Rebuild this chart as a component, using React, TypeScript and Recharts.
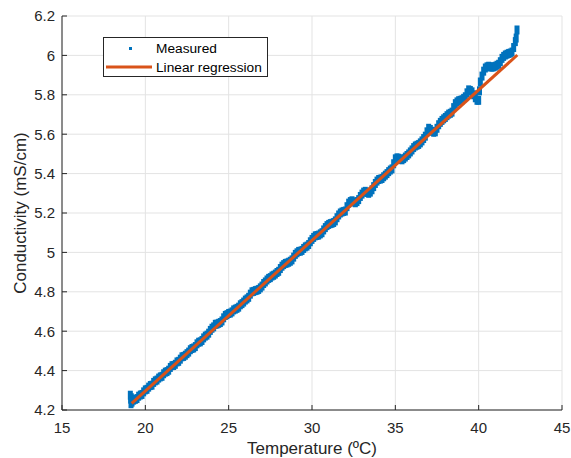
import React from 'react';
import { ComposedChart, Scatter, XAxis, YAxis, CartesianGrid, Legend } from 'recharts';

const measT = [
  19.1, 19.12, 19.14, 19.16, 19.18,
  19.2, 19.3, 19.4, 19.5, 19.6, 19.7, 19.8, 19.9, 20.0, 20.1,
  20.2, 20.3, 20.4, 20.5, 20.6, 20.7, 20.8, 20.9, 21.0, 21.1,
  21.2, 21.3, 21.4, 21.5, 21.6, 21.7, 21.8, 21.9, 22.0, 22.1,
  22.2, 22.3, 22.4, 22.5, 22.6, 22.7, 22.8, 22.9, 23.0, 23.1,
  23.2, 23.3, 23.4, 23.5, 23.6, 23.7, 23.8, 23.9, 24.0, 24.1,
  24.2, 24.3, 24.4, 24.5, 24.6, 24.7, 24.8, 24.9, 25.0, 25.1,
  25.2, 25.3, 25.4, 25.5, 25.6, 25.7, 25.8, 25.9, 26.0, 26.1,
  26.2, 26.3, 26.4, 26.5, 26.6, 26.7, 26.8, 26.9, 27.0, 27.1,
  27.2, 27.3, 27.4, 27.5, 27.6, 27.7, 27.8, 27.9, 28.0, 28.1,
  28.2, 28.3, 28.4, 28.5, 28.6, 28.7, 28.8, 28.9, 29.0, 29.1,
  29.2, 29.3, 29.4, 29.5, 29.6, 29.7, 29.8, 29.9, 30.0, 30.1,
  30.2, 30.3, 30.4, 30.5, 30.6, 30.7, 30.8, 30.9, 31.0, 31.1,
  31.2, 31.3, 31.4, 31.5, 31.6, 31.7, 31.8, 31.9, 32.0, 32.1,
  32.2, 32.3, 32.4, 32.5, 32.6, 32.7, 32.8, 32.9, 33.0, 33.1,
  33.2, 33.3, 33.4, 33.5, 33.6, 33.7, 33.8, 33.9, 34.0, 34.1,
  34.2, 34.3, 34.4, 34.5, 34.6, 34.7, 34.8, 34.9, 35.0, 35.1,
  35.2, 35.3, 35.4, 35.5, 35.6, 35.7, 35.8, 35.9, 36.0, 36.1,
  36.2, 36.3, 36.4, 36.5, 36.6, 36.7, 36.8, 36.9, 37.0, 37.1,
  37.2, 37.3, 37.4, 37.5, 37.6, 37.7, 37.8, 37.9, 38.0, 38.1,
  38.2, 38.3, 38.4, 38.5, 38.6, 38.7, 38.8, 38.9, 39.0, 39.1,
  39.2, 39.3, 39.4, 39.5, 39.6, 39.7, 39.8, 39.9, 40.0, 40.05, 40.1,
  40.2, 40.3, 40.4, 40.5, 40.6, 40.7, 40.8, 40.9, 41.0, 41.1,
  41.2, 41.3, 41.4, 41.5, 41.6, 41.7, 41.8, 41.9, 42.0, 42.1,
  42.2, 42.25, 42.3,
];

const measC = [
  4.275, 4.255, 4.232, 4.262, 4.245,
  4.240, 4.250, 4.254, 4.258, 4.270, 4.276, 4.279, 4.292, 4.302, 4.305,
  4.316, 4.324, 4.326, 4.340, 4.348, 4.352, 4.362, 4.368, 4.371, 4.384,
  4.392, 4.395, 4.402, 4.416, 4.425, 4.426, 4.432, 4.444, 4.447, 4.458,
  4.470, 4.472, 4.478, 4.486, 4.494, 4.506, 4.512, 4.515, 4.522, 4.536,
  4.544, 4.546, 4.553, 4.566, 4.575, 4.580, 4.590, 4.604, 4.615, 4.622,
  4.635, 4.636, 4.640, 4.644, 4.652, 4.668, 4.680, 4.684, 4.690, 4.692,
  4.698, 4.708, 4.712, 4.716, 4.722, 4.734, 4.740, 4.748, 4.758, 4.764,
  4.772, 4.788, 4.800, 4.802, 4.806, 4.808, 4.812, 4.820, 4.829, 4.842,
  4.850, 4.860, 4.868, 4.872, 4.880, 4.884, 4.890, 4.898, 4.904, 4.918,
  4.930, 4.938, 4.944, 4.946, 4.950, 4.955, 4.962, 4.976, 4.990, 4.998,
  5.005, 5.006, 5.010, 5.020, 5.028, 5.032, 5.040, 5.054, 5.066, 5.076,
  5.084, 5.086, 5.088, 5.094, 5.100, 5.114, 5.126, 5.136, 5.142, 5.146,
  5.148, 5.152, 5.160, 5.176, 5.190, 5.200, 5.205, 5.208, 5.210, 5.232,
  5.250, 5.258, 5.262, 5.256, 5.252, 5.258, 5.268, 5.284, 5.296, 5.306,
  5.310, 5.304, 5.300, 5.306, 5.318, 5.334, 5.350, 5.362, 5.370, 5.372,
  5.375, 5.384, 5.392, 5.400, 5.410, 5.418, 5.424, 5.450, 5.475, 5.480,
  5.478, 5.472, 5.470, 5.476, 5.484, 5.492, 5.500, 5.510, 5.520, 5.532,
  5.540, 5.544, 5.548, 5.556, 5.566, 5.578, 5.590, 5.612, 5.630, 5.624,
  5.615, 5.610, 5.612, 5.630, 5.648, 5.660, 5.670, 5.678, 5.685, 5.694,
  5.702, 5.706, 5.712, 5.735, 5.755, 5.764, 5.770, 5.772, 5.775, 5.782,
  5.790, 5.810, 5.825, 5.822, 5.815, 5.800, 5.785, 5.772, 5.772, 5.820, 5.865,
  5.895, 5.920, 5.936, 5.942, 5.945, 5.942, 5.940, 5.942, 5.945, 5.950,
  5.955, 5.968, 5.985, 5.995, 6.002, 6.006, 6.010, 6.012, 6.017, 6.040,
  6.070, 6.088, 6.129,
];

const regT = [19.18, 42.32];
const regC = [4.234, 6.002];

const xTicks = [15, 20, 25, 30, 35, 40, 45];
const yTicks = [4.2, 4.4, 4.6, 4.8, 5.0, 5.2, 5.4, 5.6, 5.8, 6.0, 6.2];
const xTitle = 'Temperature (ºC)';
const yTitle = 'Conductivity (mS/cm)';
const seriesNames = ['Measured', 'Linear regression'];

const measured = measT.map((t, i) => ({ T: t, C: measC[i] }));
const regression = regT.map((t, i) => ({ T: t, C: regC[i] }));

const FONT = '"Liberation Sans", Arial, Helvetica, sans-serif';
const AXIS = '#262626';
const BLUE = '#0072BD';
const ORANGE = '#D95319';
const TICK = 5;
const TICK_FS = 15;
const TITLE_FS = 17;

const fmt = (v: number) => String(+Number(v).toFixed(1));

const BottomTick = (p: any) => (
  <g>
    <line x1={p.x} x2={p.x} y1={p.y} y2={p.y - TICK} stroke={AXIS} strokeWidth={1} />
    <text x={p.x} y={p.y + 23} textAnchor="middle" fill={AXIS} fontSize={TICK_FS} fontFamily={FONT}>
      {fmt(p.payload.value)}
    </text>
  </g>
);
const TopTick = (p: any) => (
  <line x1={p.x} x2={p.x} y1={p.y} y2={p.y + TICK} stroke={AXIS} strokeWidth={1} />
);
const LeftTick = (p: any) => (
  <g>
    <line x1={p.x} x2={p.x + TICK} y1={p.y} y2={p.y} stroke={AXIS} strokeWidth={1} />
    <text x={p.x - 7} y={p.y + 5.3} textAnchor="end" fill={AXIS} fontSize={TICK_FS} fontFamily={FONT}>
      {fmt(p.payload.value)}
    </text>
  </g>
);
const RightTick = (p: any) => (
  <line x1={p.x} x2={p.x - TICK} y1={p.y} y2={p.y} stroke={AXIS} strokeWidth={1} />
);

const Marker = (p: any) => (
  <rect x={p.cx - 2.5} y={p.cy - 4.5} width={5} height={9} fill={BLUE} />
);
const NoMarker = () => <g />;

const LegendBox = () => (
  <div
    style={{
      width: 165,
      height: 40,
      border: `1px solid ${AXIS}`,
      background: '#fff',
      position: 'relative',
      boxSizing: 'border-box',
    }}
  >
    <svg width={165} height={40} style={{ position: 'absolute', left: -1, top: -1 }}>
      <rect x={26} y={10} width={3} height={3} fill={BLUE} />
      <line x1={3} x2={49} y1={30} y2={30} stroke={ORANGE} strokeWidth={3} />
      <text x={53} y={16} fontSize={13.7} fontFamily={FONT} fill="#000">{seriesNames[0]}</text>
      <text x={53} y={35} fontSize={13.7} fontFamily={FONT} fill="#000">{seriesNames[1]}</text>
    </svg>
  </div>
);

export default function App() {
  return (
    <div style={{ position: 'absolute', left: 0, top: 0, background: '#fff' }}>
      <ComposedChart
        width={571}
        height={458}
        margin={{ top: 16, right: 9, bottom: 0, left: 0 }}
        style={{ fontFamily: FONT }}
      >
        <CartesianGrid stroke="#e3e3e3" strokeWidth={1} />
        <XAxis
          dataKey="T"
          type="number"
          domain={[15, 45]}
          ticks={xTicks}
          interval={0}
          height={48}
          tickSize={0}
          tickMargin={0}
          tickLine={false}
          axisLine={{ stroke: AXIS }}
          tick={<BottomTick />}
          allowDataOverflow
          label={{ value: xTitle, position: 'insideBottom', offset: 4, fill: AXIS, fontSize: TITLE_FS, fontFamily: FONT }}
        />
        <XAxis
          xAxisId="top"
          orientation="top"
          type="number"
          domain={[15, 45]}
          ticks={xTicks}
          interval={0}
          height={0}
          tickSize={0}
          tickMargin={0}
          tickLine={false}
          axisLine={{ stroke: AXIS }}
          tick={<TopTick />}
          allowDataOverflow
        />
        <YAxis
          type="number"
          domain={[4.2, 6.2]}
          ticks={yTicks}
          interval={0}
          width={62}
          tickSize={0}
          tickMargin={0}
          tickLine={false}
          axisLine={{ stroke: AXIS }}
          tick={<LeftTick />}
          allowDataOverflow
          label={{ value: yTitle, angle: -90, position: 'insideLeft', offset: 20, fill: AXIS, fontSize: TITLE_FS, fontFamily: FONT, style: { textAnchor: 'middle' } }}
        />
        <YAxis
          yAxisId="right"
          orientation="right"
          type="number"
          domain={[4.2, 6.2]}
          ticks={yTicks}
          interval={0}
          width={0}
          tickSize={0}
          tickMargin={0}
          tickLine={false}
          axisLine={{ stroke: AXIS }}
          tick={<RightTick />}
          allowDataOverflow
        />
        <Legend
          layout="vertical"
          align="center"
          verticalAlign="middle"
          content={<LegendBox />}
          wrapperStyle={{ left: 103, top: 37, width: 165, height: 40 }}
        />
        <Scatter
          name={seriesNames[0]}
          data={measured}
          dataKey="C"
          shape={<Marker />}
          isAnimationActive={false}
        />
        <Scatter
          name={seriesNames[1]}
          data={regression}
          dataKey="C"
          shape={<NoMarker />}
          line={{ stroke: ORANGE, strokeWidth: 3 }}
          lineType="joint"
          isAnimationActive={false}
        />
      </ComposedChart>
    </div>
  );
}
